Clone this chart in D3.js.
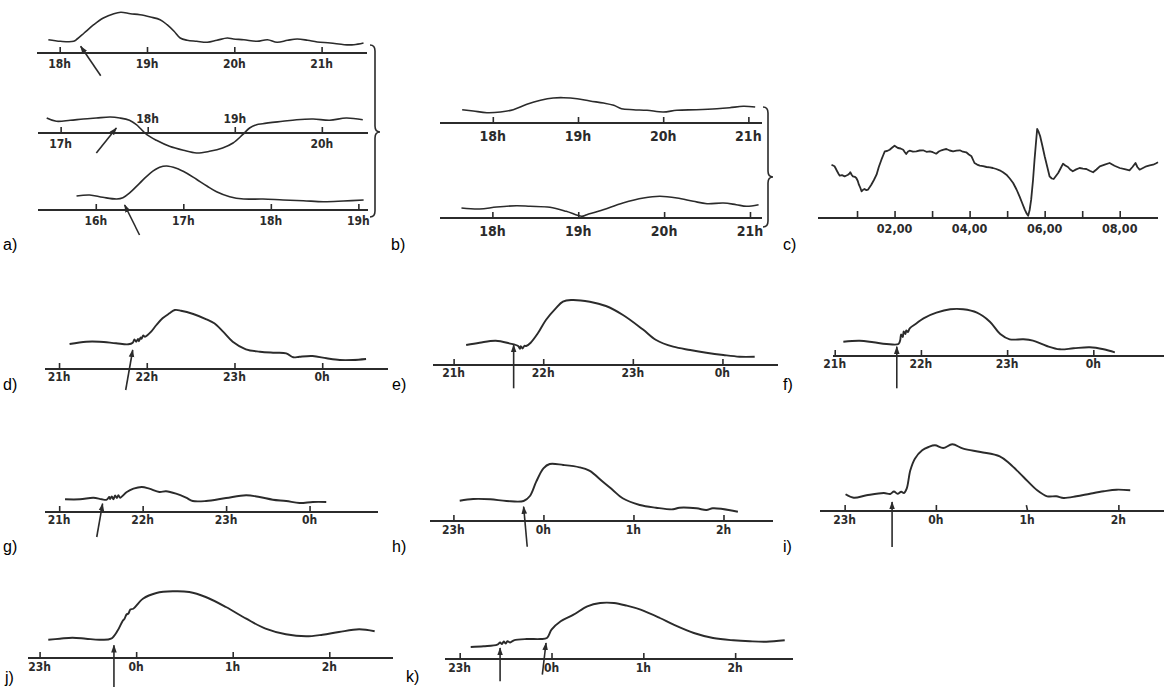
<!DOCTYPE html>
<html>
<head>
<meta charset="utf-8">
<script src="https://cdn.jsdelivr.net/npm/d3@7"></script>
<style>
  html, body { margin: 0; padding: 0; background: #ffffff; }
  svg { display: block; }
</style>
</head>
<body>
<svg id="fig" width="1164" height="693"></svg>
<script>
// ---------- recordings: time in hours (past midnight continues as 24, 25 ...), deflection in chart units ----------
const a1Time  = [17.87,18.01,18.16,18.20,18.28,18.39,18.50,18.62,18.70,18.81,18.92,19.04,19.15,19.23,19.31,19.38,19.46,19.57,19.69,19.80,19.92,19.99,20.11,20.26,20.38,20.49,20.61,20.72,20.84,20.95,21.10,21.26,21.37,21.48];
const a1Value = [13.3,11.7,11.7,14,20,28.3,35,39.3,40.7,39.3,38.3,36,33.3,28.3,21.7,15,12.7,11.7,10.7,12.7,15,14,13.3,11.7,13.3,10.7,12.7,14,12.7,11,10,8.3,8.3,10];

const a2Time  = [16.84,16.95,17.11,17.26,17.41,17.57,17.68,17.79,17.87,17.91,17.99,18.10,18.25,18.41,18.56,18.71,18.86,18.98,19.09,19.17,19.25,19.32,19.55,19.71,19.90,20.09,20.28,20.47];
const a2Value = [15,11.7,12.7,14,15,16,15,12.7,8.3,5,-1.7,-7.3,-13.3,-17.3,-20,-18.3,-15,-10,-1.7,5,8.3,9.3,11.7,13.3,14,12.7,15,13.3];

const a3Time  = [15.78,15.93,16.08,16.24,16.31,16.39,16.50,16.62,16.73,16.81,16.92,17.04,17.15,17.27,17.38,17.53,17.69,17.91,18.14,18.37,18.60,18.83,19.06];
const a3Value = [14,15,12.7,11,12.3,17.3,26.7,36.7,42.7,44,41.7,36.7,30.7,24,18.3,13.3,11,11,10,9.3,8.3,9,10];

const b1Time  = [17.64,17.77,17.93,18.09,18.24,18.40,18.56,18.71,18.83,18.99,19.14,19.30,19.42,19.51,19.65,19.81,20.00,20.16,20.39,20.63,20.78,20.94,21.08];
const b1Value = [13.3,12,10.3,11,13.3,18.7,22.7,25,25.3,24.3,22,20,17.7,14.3,13.3,12.7,11,12.7,13.3,14.3,15.3,16.7,16];

const b2Time  = [17.64,17.85,18.05,18.28,18.44,18.67,18.86,19.04,19.10,19.29,19.52,19.76,19.95,20.15,20.34,20.50,20.69,20.84,20.96,21.10];
const b2Value = [10,9,11,12.3,11.7,10.7,6.7,1.7,3.3,8.3,15,20,21.7,20,16.7,14.3,15,13.3,11.7,13.3];

const cTime  = [0.32,0.36,0.40,0.44,0.47,0.51,0.54,0.60,0.67,0.72,0.76,0.80,0.82,0.86,0.89,0.94,0.98,1.02,1.05,1.09,1.12,1.16,1.20,1.25,1.29,1.34,1.38,1.45,1.52,1.58,1.65,1.70,1.74,1.80,1.87,1.94,2.00,2.05,2.09,2.16,2.23,2.27,2.31,2.36,2.40,2.49,2.58,2.67,2.76,2.85,2.94,3.02,3.11,3.18,3.25,3.31,3.38,3.47,3.56,3.65,3.74,3.82,3.91,3.98,4.05,4.13,4.20,4.27,4.36,4.45,4.54,4.62,4.71,4.80,4.89,4.98,5.07,5.16,5.25,5.33,5.40,5.47,5.52,5.56,5.60,5.64,5.69,5.73,5.77,5.80,5.84,5.88,5.94,6.00,6.07,6.13,6.19,6.24,6.30,6.36,6.43,6.49,6.55,6.62,6.68,6.75,6.84,6.93,7.02,7.11,7.20,7.29,7.38,7.47,7.60,7.73,7.86,8.00,8.13,8.26,8.34,8.42,8.47,8.53,8.62,8.71,8.80,8.89,8.96,9.02];
const cValue = [53.3,52.5,51.7,49,46.7,44,42.3,42.8,41.7,42.5,43.3,44.5,45.7,43,41.7,41.2,40,37,33.3,30,26.7,28.2,29,27.8,28.3,31,33.3,38,43.3,51,58.3,63,66.7,67,68.3,70.5,72.3,71,70,69.5,68.3,66,64,66.5,67.3,66.4,66.7,67.5,67.7,66.2,66.7,65.8,64.3,66.5,67.7,68.4,69,67.5,66.7,67.4,67.7,66.3,65.7,63.5,61.7,55,53.4,52.3,51.8,51,50.6,50,49,47.7,45.8,43.3,39.5,35,28.5,21.7,15,8.3,4.5,2.3,8,18.3,38,58.3,76,89,86,81.7,72,61.7,51,41.7,39.5,39,42,45,50,54.3,52.5,51,48.5,46.7,48.6,50,49.4,49,47.2,45.7,48.5,51.7,53.4,55,52.3,50,48.8,47.7,51,55,51,48.3,50,51.7,52.7,53.3,54.5,55.7];

const dTime  = [21.12,21.31,21.46,21.65,21.79,21.84,21.86,21.88,21.90,21.91,21.93,21.94,21.96,21.98,22.01,22.05,22.11,22.18,22.26,22.32,22.39,22.53,22.68,22.77,22.87,22.98,23.13,23.29,23.44,23.59,23.67,23.74,23.89,24.05,24.20,24.35,24.50];
const dValue = [25,27.3,27.3,25.7,24.7,26.3,29.5,27.3,30,27.8,31.5,30.2,33.5,32.3,34,37.3,44,50.7,55.7,59,58.3,55,49.7,45.7,37.3,27.3,19.7,17.3,16.3,15.7,11.7,12.3,13,10.7,9,9,10];

const eTime  = [21.14,21.29,21.47,21.62,21.72,21.74,21.75,21.77,21.79,21.81,21.86,21.94,22.03,22.14,22.22,22.31,22.52,22.70,22.89,23.11,23.26,23.45,23.64,23.82,24.01,24.19,24.36];
const eValue = [20,22.3,24.3,21.7,19,16.2,18.8,16.5,19.2,19,22.3,31.7,45,56.7,63.3,65,63.3,59,50,35.7,25,18.3,15,12.3,10,8.3,8.3];

const fTime  = [21.10,21.29,21.45,21.60,21.74,21.76,21.77,21.79,21.80,21.82,21.83,21.85,21.87,21.95,22.03,22.18,22.34,22.49,22.65,22.80,22.92,23.03,23.19,23.30,23.46,23.61,23.77,23.96,24.12,24.25];
const fValue = [14.3,15.3,13.7,12,12,16,21.5,19,24.5,22,25.5,24,27.7,32.7,37.7,43.3,46.7,46.7,43.3,34.3,22,16.7,16.7,15.3,10,6.7,7.7,8.7,6.7,3.7];

const gTime  = [21.07,21.25,21.41,21.51,21.57,21.60,21.61,21.63,21.65,21.67,21.69,21.71,21.73,21.81,21.89,21.99,22.08,22.20,22.28,22.40,22.52,22.60,22.76,23.00,23.24,23.40,23.56,23.72,23.88,24.04,24.20];
const gValue = [12.7,12.7,14.3,12.7,12.3,15,13,15.5,12.8,16.5,14,16.8,14.3,20,23.3,25,23.3,20,20.7,18.3,14.3,11,11,14,16.7,15,12.3,11,9,10,10];

const hTime  = [23.07,23.22,23.41,23.59,23.78,23.85,23.92,24.00,24.07,24.22,24.40,24.51,24.66,24.77,24.88,25.07,25.25,25.44,25.51,25.70,25.81,25.88,25.99,26.16];
const hValue = [20.3,22,21.7,20,20,25,39.3,52.7,57,56,53.7,50.3,39.3,31,22.7,16,13.3,11.7,13.3,12.7,11,12.7,12,9.3];

const iTime  = [23.01,23.10,23.24,23.43,23.50,23.54,23.58,23.62,23.65,23.68,23.72,23.77,23.85,23.92,23.99,24.08,24.18,24.30,24.49,24.70,24.81,24.96,25.11,25.22,25.32,25.40,25.54,25.69,25.84,25.98,26.13];
const iValue = [16.7,13.3,15.7,18,17,19.5,17.2,19.3,18,22.3,40.7,52.3,60.7,64,65.7,63,66.7,62.3,59,54.7,47.3,34,20.7,14.7,14.7,13,14.7,17.3,19.7,21.3,20.7];

const jTime  = [23.09,23.21,23.34,23.48,23.62,23.74,23.81,23.86,23.88,23.90,23.92,23.94,23.97,24.07,24.21,24.38,24.55,24.72,24.93,25.14,25.34,25.55,25.76,25.93,26.10,26.31,26.47];
const jValue = [18.3,19.3,20.3,19.3,18.3,19.3,27.7,37,39.3,43.5,44.5,48.5,49.3,59.3,65,66.7,66,61,51,39.3,29.3,23.7,21.7,23.3,26,28.7,26.7];

const kTime  = [23.12,23.26,23.41,23.44,23.46,23.48,23.50,23.52,23.55,23.59,23.73,23.88,23.95,24.00,24.10,24.24,24.39,24.53,24.68,24.82,24.97,25.18,25.33,25.55,25.76,25.98,26.16,26.34,26.54];
const kValue = [12,12.7,14.3,16.5,15,17.5,15.5,17.8,16.5,18.7,20,20,21,29.3,37.7,44.3,52.7,56,56,53.3,49.3,41,34.3,26,21,18.7,17.7,17.3,18.7];

// ---------- axis ticks (hours) ----------
const a1Ticks = [18, 19, 20, 21];
const a2Ticks = [17, 18, 19, 20];
const a2TicksLabelledAbove = [18, 19];
const a3Ticks = [16, 17, 18, 19];
const bTicks  = [18, 19, 20, 21];
const cTicks  = [1, 2, 3, 4, 5, 6, 7, 8];
const cTickLabels = ["", "02,00", "", "04,00", "", "06,00", "", "08,00"];
const eveningTicks = [21, 22, 23, 24];
const nightTicks   = [23, 24, 25, 26];
const iBentTick    = [25];

// ---------- stimulus arrows: [time, value] at tail, then head ----------
const a1Arrow  = [[18.47, -22.7], [18.24, 6.7]];
const a2Arrow  = [[17.41, -20], [17.64, 5]];
const a3Arrow  = [[16.50, -25], [16.33, 5]];
const dArrow   = [[21.76, -21], [21.84, 19]];
const eArrow   = [[21.67, -23.3], [21.67, 20]];
const fArrow   = [[21.72, -32.3], [21.72, 9.3]];
const gArrow   = [[21.45, -25], [21.52, 8.3]];
const hArrow   = [[23.82, -25.7], [23.78, 14.3]];
const iArrow   = [[23.52, -36], [23.52, 9]];
const jArrow   = [[23.77, -29], [23.77, 12.7]];
const kArrow1  = [[23.44, -22.3], [23.44, 11]];
const kArrow2  = [[23.90, -15.7], [23.94, 16]];

const panelLetters = ["a)", "b)", "c)", "d)", "e)", "f)", "g)", "h)", "i)", "j)", "k)"];

// ---------- layout ----------
const INK = "#2b2b2b";
const tickFont = "'Liberation Sans Narrow','DejaVu Sans Condensed','Arial Narrow',sans-serif";
const letterFont = "'Liberation Sans', Arial, sans-serif";

const hourLabel = h => (((h % 24) + 24) % 24) + "h";

const traces = [
  { t: a1Time, v: a1Value, frame: { x0: 37,  x1: 367,  y: 53,  h0: 17.74, h1: 21.52 }, ticks: a1Ticks, fs: 12, lab: 15, sw: 1.6, arrows: [a1Arrow] },
  { t: a2Time, v: a2Value, frame: { x0: 38,  x1: 368,  y: 133, h0: 16.74, h1: 20.53 }, ticks: a2Ticks, above: a2TicksLabelledAbove, fs: 12, lab: 15, sw: 1.6, arrows: [a2Arrow] },
  { t: a3Time, v: a3Value, frame: { x0: 38,  x1: 368,  y: 210, h0: 15.34, h1: 19.11 }, ticks: a3Ticks, fs: 12, lab: 15, sw: 1.6, arrows: [a3Arrow] },
  { t: b1Time, v: b1Value, frame: { x0: 440, x1: 762,  y: 123, h0: 17.38, h1: 21.16 }, ticks: bTicks, fs: 14, lab: 18, sw: 1.6, arrows: [] },
  { t: b2Time, v: b2Value, frame: { x0: 440, x1: 762,  y: 218, h0: 17.39, h1: 21.14 }, ticks: bTicks, fs: 14, lab: 18, sw: 1.6, arrows: [] },
  { t: cTime,  v: cValue,  frame: { x0: 818, x1: 1158, y: 218, h0: -0.04, h1: 9.02 },  ticks: cTicks, labels: cTickLabels, fs: 12.5, lab: 15, tickLen: 7, linear: true, sw: 1.8, arrows: [] },
  { t: dTime,  v: dValue,  frame: { x0: 45,  x1: 388,  y: 369, h0: 20.84, h1: 24.75 }, ticks: eveningTicks, fs: 12, lab: 12, sw: 1.9, arrows: [dArrow] },
  { t: eTime,  v: eValue,  frame: { x0: 433, x1: 778,  y: 365, h0: 20.77, h1: 24.62 }, ticks: eveningTicks, fs: 12, lab: 12, sw: 1.9, arrows: [eArrow] },
  { t: fTime,  v: fValue,  frame: { x0: 833, x1: 1164, y: 356, h0: 20.98, h1: 24.82 }, ticks: eveningTicks, fs: 12, lab: 12, sw: 1.9, arrows: [fArrow] },
  { t: gTime,  v: gValue,  frame: { x0: 45,  x1: 378,  y: 512, h0: 20.83, h1: 24.82 }, ticks: eveningTicks, fs: 12, lab: 12, sw: 1.9, arrows: [gArrow] },
  { t: hTime,  v: hValue,  frame: { x0: 430, x1: 773,  y: 521, h0: 22.74, h1: 26.55 }, ticks: nightTicks, fs: 12, lab: 13, sw: 1.9, arrows: [hArrow] },
  { t: iTime,  v: iValue,  frame: { x0: 820, x1: 1164, y: 511, h0: 22.73, h1: 26.50 }, ticks: nightTicks, bent: iBentTick, fs: 12, lab: 13, sw: 1.9, arrows: [iArrow] },
  { t: jTime,  v: jValue,  frame: { x0: 28,  x1: 393,  y: 658, h0: 22.88, h1: 26.66 }, ticks: nightTicks, fs: 12, lab: 13, sw: 1.9, arrows: [jArrow] },
  { t: kTime,  v: kValue,  frame: { x0: 445, x1: 793,  y: 659, h0: 22.84, h1: 26.63 }, ticks: nightTicks, fs: 12, lab: 13, sw: 1.9, arrows: [kArrow1, kArrow2] }
];

const letterPos = [
  [3, 250], [391, 250], [783, 250],
  [3, 390], [392, 390], [783, 390],
  [3, 552], [392, 552], [783, 552],
  [5, 683], [406, 682]
];

// curly braces grouping the stacked records of a) and b): [x, yTop, yBottom, yTip]
const braces = [[370, 45, 217, 132], [763, 107, 227, 177]];

const svg = d3.select("#fig");

svg.append("defs").append("marker")
  .attr("id", "head")
  .attr("viewBox", "0 0 10 10")
  .attr("refX", 9).attr("refY", 5)
  .attr("markerWidth", 5).attr("markerHeight", 6)
  .attr("orient", "auto")
  .append("path")
  .attr("d", "M0,1.5 L10,5 L0,8.5 Z")
  .attr("fill", INK);

traces.forEach(tr => {
  const f = tr.frame;
  const x = d3.scaleLinear().domain([f.h0, f.h1]).range([f.x0, f.x1]);
  const y = d3.scaleLinear().domain([0, 100]).range([f.y, f.y - 100]);
  const g = svg.append("g");

  // baseline with upward ticks
  const axis = d3.axisTop(x)
    .tickValues(tr.ticks)
    .tickSize(tr.tickLen || 6)
    .tickFormat("");
  const ax = g.append("g").attr("transform", `translate(0,${f.y})`).call(axis);
  ax.select(".domain").attr("d", `M${f.x0},0H${f.x1}`).attr("stroke", INK).attr("stroke-width", 2.2);
  ax.selectAll(".tick line").attr("stroke", INK).attr("stroke-width", 1.6);
  if (tr.bent) {
    ax.selectAll(".tick").filter(d => tr.bent.includes(d)).select("line")
      .attr("transform", "rotate(-12)");
  }

  // tick labels, below the line unless flagged as above
  const above = tr.above || [];
  g.selectAll("text.tl")
    .data(tr.ticks.map((h, i) => ({ h, text: tr.labels ? tr.labels[i] : hourLabel(h) })))
    .join("text")
    .attr("class", "tl")
    .attr("x", d => x(d.h))
    .attr("y", d => above.includes(d.h) ? f.y - 10 : f.y + tr.lab)
    .attr("text-anchor", "middle")
    .attr("font-family", tickFont)
    .attr("font-weight", "bold")
    .attr("font-size", tr.fs)
    .attr("fill", INK)
    .text(d => d.text);

  // recorded trace
  const line = d3.line()
    .x(d => x(d[0]))
    .y(d => y(d[1]))
    .curve(tr.linear ? d3.curveLinear : d3.curveCatmullRom.alpha(0.5));
  g.append("path")
    .datum(tr.t.map((t, i) => [t, tr.v[i]]))
    .attr("d", line)
    .attr("fill", "none")
    .attr("stroke", INK)
    .attr("stroke-width", tr.sw)
    .attr("stroke-linejoin", "round");

  // stimulus arrows
  tr.arrows.forEach(a => {
    g.append("line")
      .attr("x1", x(a[0][0])).attr("y1", y(a[0][1]))
      .attr("x2", x(a[1][0])).attr("y2", y(a[1][1]))
      .attr("stroke", INK)
      .attr("stroke-width", 1.6)
      .attr("marker-end", "url(#head)");
  });
});

// braces
braces.forEach(([bx, top, bot, tip]) => {
  const w = 5, p = 5;
  const d = `M${bx},${top} Q${bx + w},${top} ${bx + w},${top + 6} L${bx + w},${tip - 6} Q${bx + w},${tip} ${bx + w + p},${tip}` +
            ` Q${bx + w},${tip} ${bx + w},${tip + 6} L${bx + w},${bot - 6} Q${bx + w},${bot} ${bx},${bot}`;
  svg.append("path").attr("d", d).attr("fill", "none").attr("stroke", INK).attr("stroke-width", 1.6);
});

// panel letters
svg.selectAll("text.letter")
  .data(panelLetters)
  .join("text")
  .attr("class", "letter")
  .attr("x", (d, i) => letterPos[i][0])
  .attr("y", (d, i) => letterPos[i][1])
  .attr("font-family", letterFont)
  .attr("font-size", 16)
  .attr("fill", "#000")
  .text(d => d);
</script>
</body>
</html>
